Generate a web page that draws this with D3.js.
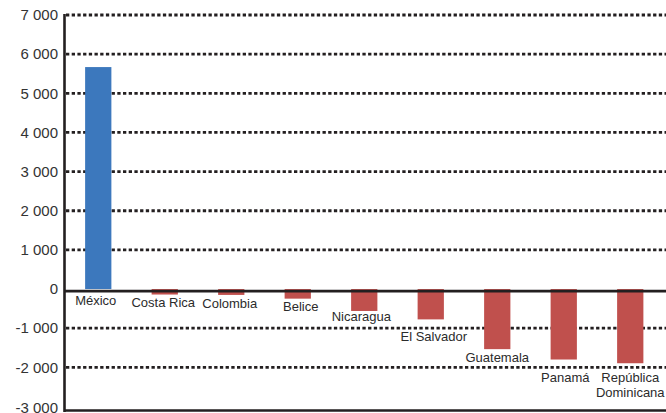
<!DOCTYPE html>
<html>
<head>
<meta charset="utf-8">
<script src="https://cdn.jsdelivr.net/npm/d3@7"></script>
<style>
    body { margin: 0; background: #fff; }
    svg { display: block; font-family: "Liberation Sans", Arial, sans-serif; }
</style>
</head>
<body>
<div id="chart"></div>
<script>
// Data
const countries = ['México', 'Costa Rica', 'Colombia', 'Belice', 'Nicaragua',
    'El Salvador', 'Guatemala', 'Panamá', 'República Dominicana'];
const values = [5670, -140, -150, -245, -560, -775, -1535, -1800, -1895];
const yTicks = [7000, 6000, 5000, 4000, 3000, 2000, 1000, 0, -1000, -2000, -3000];

// label placement (pixels below the bar end, horizontal nudge), as in the original layout
const labelDrop = [16, 12, 13.5, 12, 10, 22, 13, 22.5, 19];
const labelNudge = [-2.5, -1.5, -1.5, 3, -3, 3, 0, 1.5, 0];

const width = 666, height = 413;
const ink = '#231f20';

const svg = d3.select('#chart')
    .append('svg')
    .attr('width', width)
    .attr('height', height);

const x = d3.scaleBand()
    .domain(countries)
    .range([65, 663.5])
    .paddingInner(0.605)
    .paddingOuter(0.3025);

const y = d3.scaleLinear()
    .domain([-3000, 7000])
    .range([406.5, 15]);

const fmt = v => (v < 0 ? '-' : '') + d3.format(',')(Math.abs(v)).replace(/,/g, ' ');

// Dotted gridlines (zero gets the solid axis instead)
svg.append('g')
    .selectAll('line')
    .data(yTicks.filter(t => t !== 0 && t !== -3000))
    .enter().append('line')
    .attr('x1', 66)
    .attr('x2', width)
    .attr('y1', d => y(d))
    .attr('y2', d => y(d))
    .attr('stroke', ink)
    .attr('stroke-width', 2.8)
    .attr('stroke-dasharray', '3.3 2.4');

// Tick labels
svg.append('g')
    .selectAll('text')
    .data(yTicks)
    .enter().append('text')
    .attr('x', 58)
    .attr('y', d => y(d) + (d === -3000 ? 1.5 : 0))
    .attr('dy', '0.35em')
    .attr('text-anchor', 'end')
    .attr('fill', '#333')
    .style('font-size', '15px')
    .text(fmt);

// Bars
svg.append('g')
    .selectAll('rect')
    .data(values)
    .enter().append('rect')
    .attr('x', (d, i) => x(countries[i]))
    .attr('width', x.bandwidth())
    .attr('y', d => y(Math.max(d, 0)))
    .attr('height', d => Math.abs(y(d) - y(0)))
    .attr('fill', d => d >= 0 ? '#3c78bd' : '#c0504d');

// Axes lines
svg.append('line')
    .attr('x1', 64.5).attr('x2', 64.5)
    .attr('y1', 14).attr('y2', 412)
    .attr('stroke', ink).attr('stroke-width', 2.6);

svg.append('line')
    .attr('x1', 64).attr('x2', width)
    .attr('y1', y(0) + 2).attr('y2', y(0) + 2)
    .attr('stroke', ink).attr('stroke-width', 2.7);

svg.append('line')
    .attr('x1', 64).attr('x2', width)
    .attr('y1', 410.5).attr('y2', 410.5)
    .attr('stroke', ink).attr('stroke-width', 2.7);

// Category labels under each bar end
const labels = svg.append('g')
    .selectAll('text')
    .data(countries)
    .enter().append('text')
    .attr('text-anchor', 'middle')
    .attr('fill', '#2b2b2b')
    .style('font-size', '13px')
    .attr('transform', (d, i) => {
        const cx = x(d) + x.bandwidth() / 2 + labelNudge[i];
        const cy = y(Math.min(values[i], 0)) + labelDrop[i];
        return `translate(${cx},${cy})`;
    });

labels.each(function(d) {
    const words = d === 'República Dominicana' ? ['República', 'Dominicana'] : [d];
    d3.select(this).selectAll('tspan')
        .data(words)
        .enter().append('tspan')
        .attr('x', 0)
        .attr('dy', (w, j) => j === 0 ? 0 : 15)
        .text(w => w);
});
</script>
</body>
</html>
